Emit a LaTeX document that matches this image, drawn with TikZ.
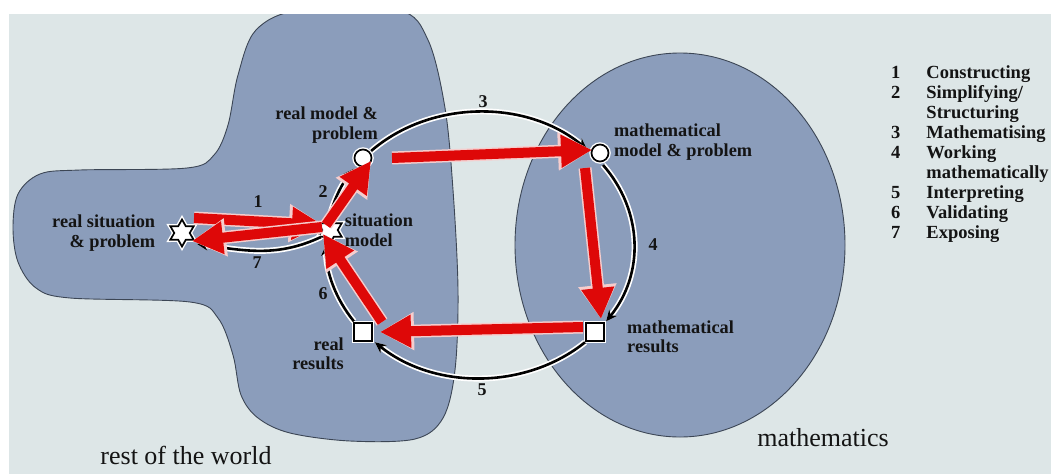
\documentclass[tikz,border=0pt]{standalone}
\usepackage{fontspec}
\setmainfont{Liberation Serif}
\usetikzlibrary{shapes.geometric, arrows.meta, positioning, calc}
\definecolor{bgpaper}{RGB}{221,230,231}
\definecolor{worldblue}{RGB}{139,157,187}
\definecolor{edgegray}{RGB}{60,70,85}
\definecolor{arrowred}{RGB}{222,8,8}
\definecolor{redhalo}{RGB}{246,205,205}
\definecolor{inkblack}{RGB}{20,20,20}

\begin{document}
\begin{tikzpicture}[x=1pt, y=-1pt,
  region/.style={fill=worldblue, draw=edgegray, line width=0.9pt},
  lbl/.style={font=\fontsize{18.3}{19.5}\selectfont\bfseries, text=inkblack, inner sep=0pt},
  num/.style={font=\fontsize{18}{19}\selectfont\bfseries, text=inkblack, inner sep=1pt},
  big/.style={font=\fontsize{26}{30}\selectfont, text=inkblack, inner sep=0pt},
  legend/.style={font=\fontsize{18.5}{20}\selectfont\bfseries, text=inkblack, inner sep=0pt},
  cyc/.style={draw=black, line width=2.6pt, preaction={draw=white, line width=6pt},
              -{Stealth[length=11pt,width=10pt]}},
  marker/.style={draw=black, fill=white, line width=1.7pt, inner sep=0pt,
                 preaction={draw=white, line width=4.5pt}},
  sitstar/.style={marker, star, star points=6, star point ratio=1.75, minimum size=27pt},
  modcirc/.style={marker, circle, minimum size=17pt},
  ressq/.style={marker, rectangle, minimum size=18pt},
  redarr/.style={draw=arrowred, line width=10pt, -{Triangle[length=31pt,width=31pt]},
                 preaction={draw=redhalo, line width=13pt, -{Triangle[length=34pt,width=36pt]}}}
]
  \useasboundingbox (0,0) rectangle (1051,474);
  \fill[bgpaper] (9,14) rectangle (1051,474);

  % rest of the world and mathematics
  \begin{scope}
    \clip (9,14) rectangle (1051,474);
    \draw[region] plot[smooth cycle, tension=0.55] coordinates {
      (300,10) (398,10) (428,40) (445,108) (453,190) (458,290) (455,370)
      (443,418) (415,439) (350,441) (290,433) (258,418) (241,395) (233,355)
      (218,318) (190,302) (70,298) (36,288) (18,262) (13,228) (18,194)
      (40,174) (80,170) (187,168) (214,155) (228,125) (238,75) (256,30)};
  \end{scope}
  \draw[region] (680,245) ellipse[x radius=165, y radius=192];

  \coordinate (ctr) at (480,245);

  \node[sitstar] (rsit) at (182,233) {};
  \node[sitstar] (smod) at (330,230) {};
  \node[modcirc] (rmod) at (363,158) {};
  \node[modcirc] (mmod) at (600,153) {};
  \node[ressq]   (mres) at (595,332) {};
  \node[ressq]   (rres) at (363,332) {};

  \draw[cyc] (ctr) ++(-135:154 and 133) arc[start angle=-135, end angle=-46, x radius=154, y radius=133];
  \draw[cyc] (ctr) ++(-37:154 and 133) arc[start angle=-37, end angle=35, x radius=154, y radius=133];
  \draw[cyc] (ctr) ++(47:154 and 133) arc[start angle=47, end angle=133, x radius=154, y radius=133];
  \draw[cyc] (ctr) ++(145:154 and 133) arc[start angle=145, end angle=180, x radius=154, y radius=133];
  \draw[cyc] (ctr) ++(193:154 and 133) arc[start angle=193, end angle=215, x radius=154, y radius=133];
  \draw[cyc] ($(smod)+(-9,7)$) to[out=205, in=-8] ($(rsit)+(15,11)$);

  \draw[redarr] ($(rsit)+(12,-15)$) -- ($(smod)+(-7,-5)$);
  \draw[redarr] ($(smod)+(-8,-3)$) -- ($(rsit)+(10,8)$);
  \draw[redarr] ($(smod)+(-4,-5)$) -- ($(rmod)+(8,3)$);
  \draw[redarr] ($(rmod)+(29,0)$) -- ($(mmod)+(-8,-3)$);
  \draw[redarr] ($(mmod)+(-15,15)$) -- ($(mres)+(6,-13)$);
  \draw[redarr] ($(mres)+(-12,-5)$) -- ($(rres)+(17,0)$);
  \draw[redarr] ($(rres)+(19,-10)$) -- ($(smod)+(-7,4)$);

  \node[lbl, align=right, left=18pt of rsit] (rsitlbl) {real situation\\\& problem};
  \node[lbl, align=left, right=6pt of smod] (smodlbl) {situation\\model};
  \node[lbl, align=right, anchor=east] (rmodlbl) at (378,125) {real model \&\\problem};
  \node[lbl, align=left, anchor=west] (mmodlbl) at (614,142) {mathematical\\model \& problem};
  \node[lbl, align=left, anchor=west] (mreslbl) at (627,337) {mathematical\\results};
  \node[lbl, align=right, anchor=east] (rreslbl) at (344,354) {real\\results};

  \node[num] at (258,202) {1};
  \node[num] at (323,192) {2};
  \node[num] at (483,102) {3};
  \node[num] at (653,245) {4};
  \node[num] at (482,390) {5};
  \node[num] at (323,294) {6};
  \node[num] at (257,263) {7};

  \node[big] (world) at (186,455) {rest of the world};
  \node[big] (maths) at (823,438) {mathematics};

  \node[legend, anchor=base west] (leg) at (891,78) {\begin{tabular}[t]{@{}l@{\hspace{26pt}}l@{}}
    1 & Constructing\\ 2 & Simplifying/\\ & Structuring\\ 3 & Mathematising\\
    4 & Working\\ & mathematically\\ 5 & Interpreting\\ 6 & Validating\\ 7 & Exposing
  \end{tabular}};
\end{tikzpicture}
\end{document}
